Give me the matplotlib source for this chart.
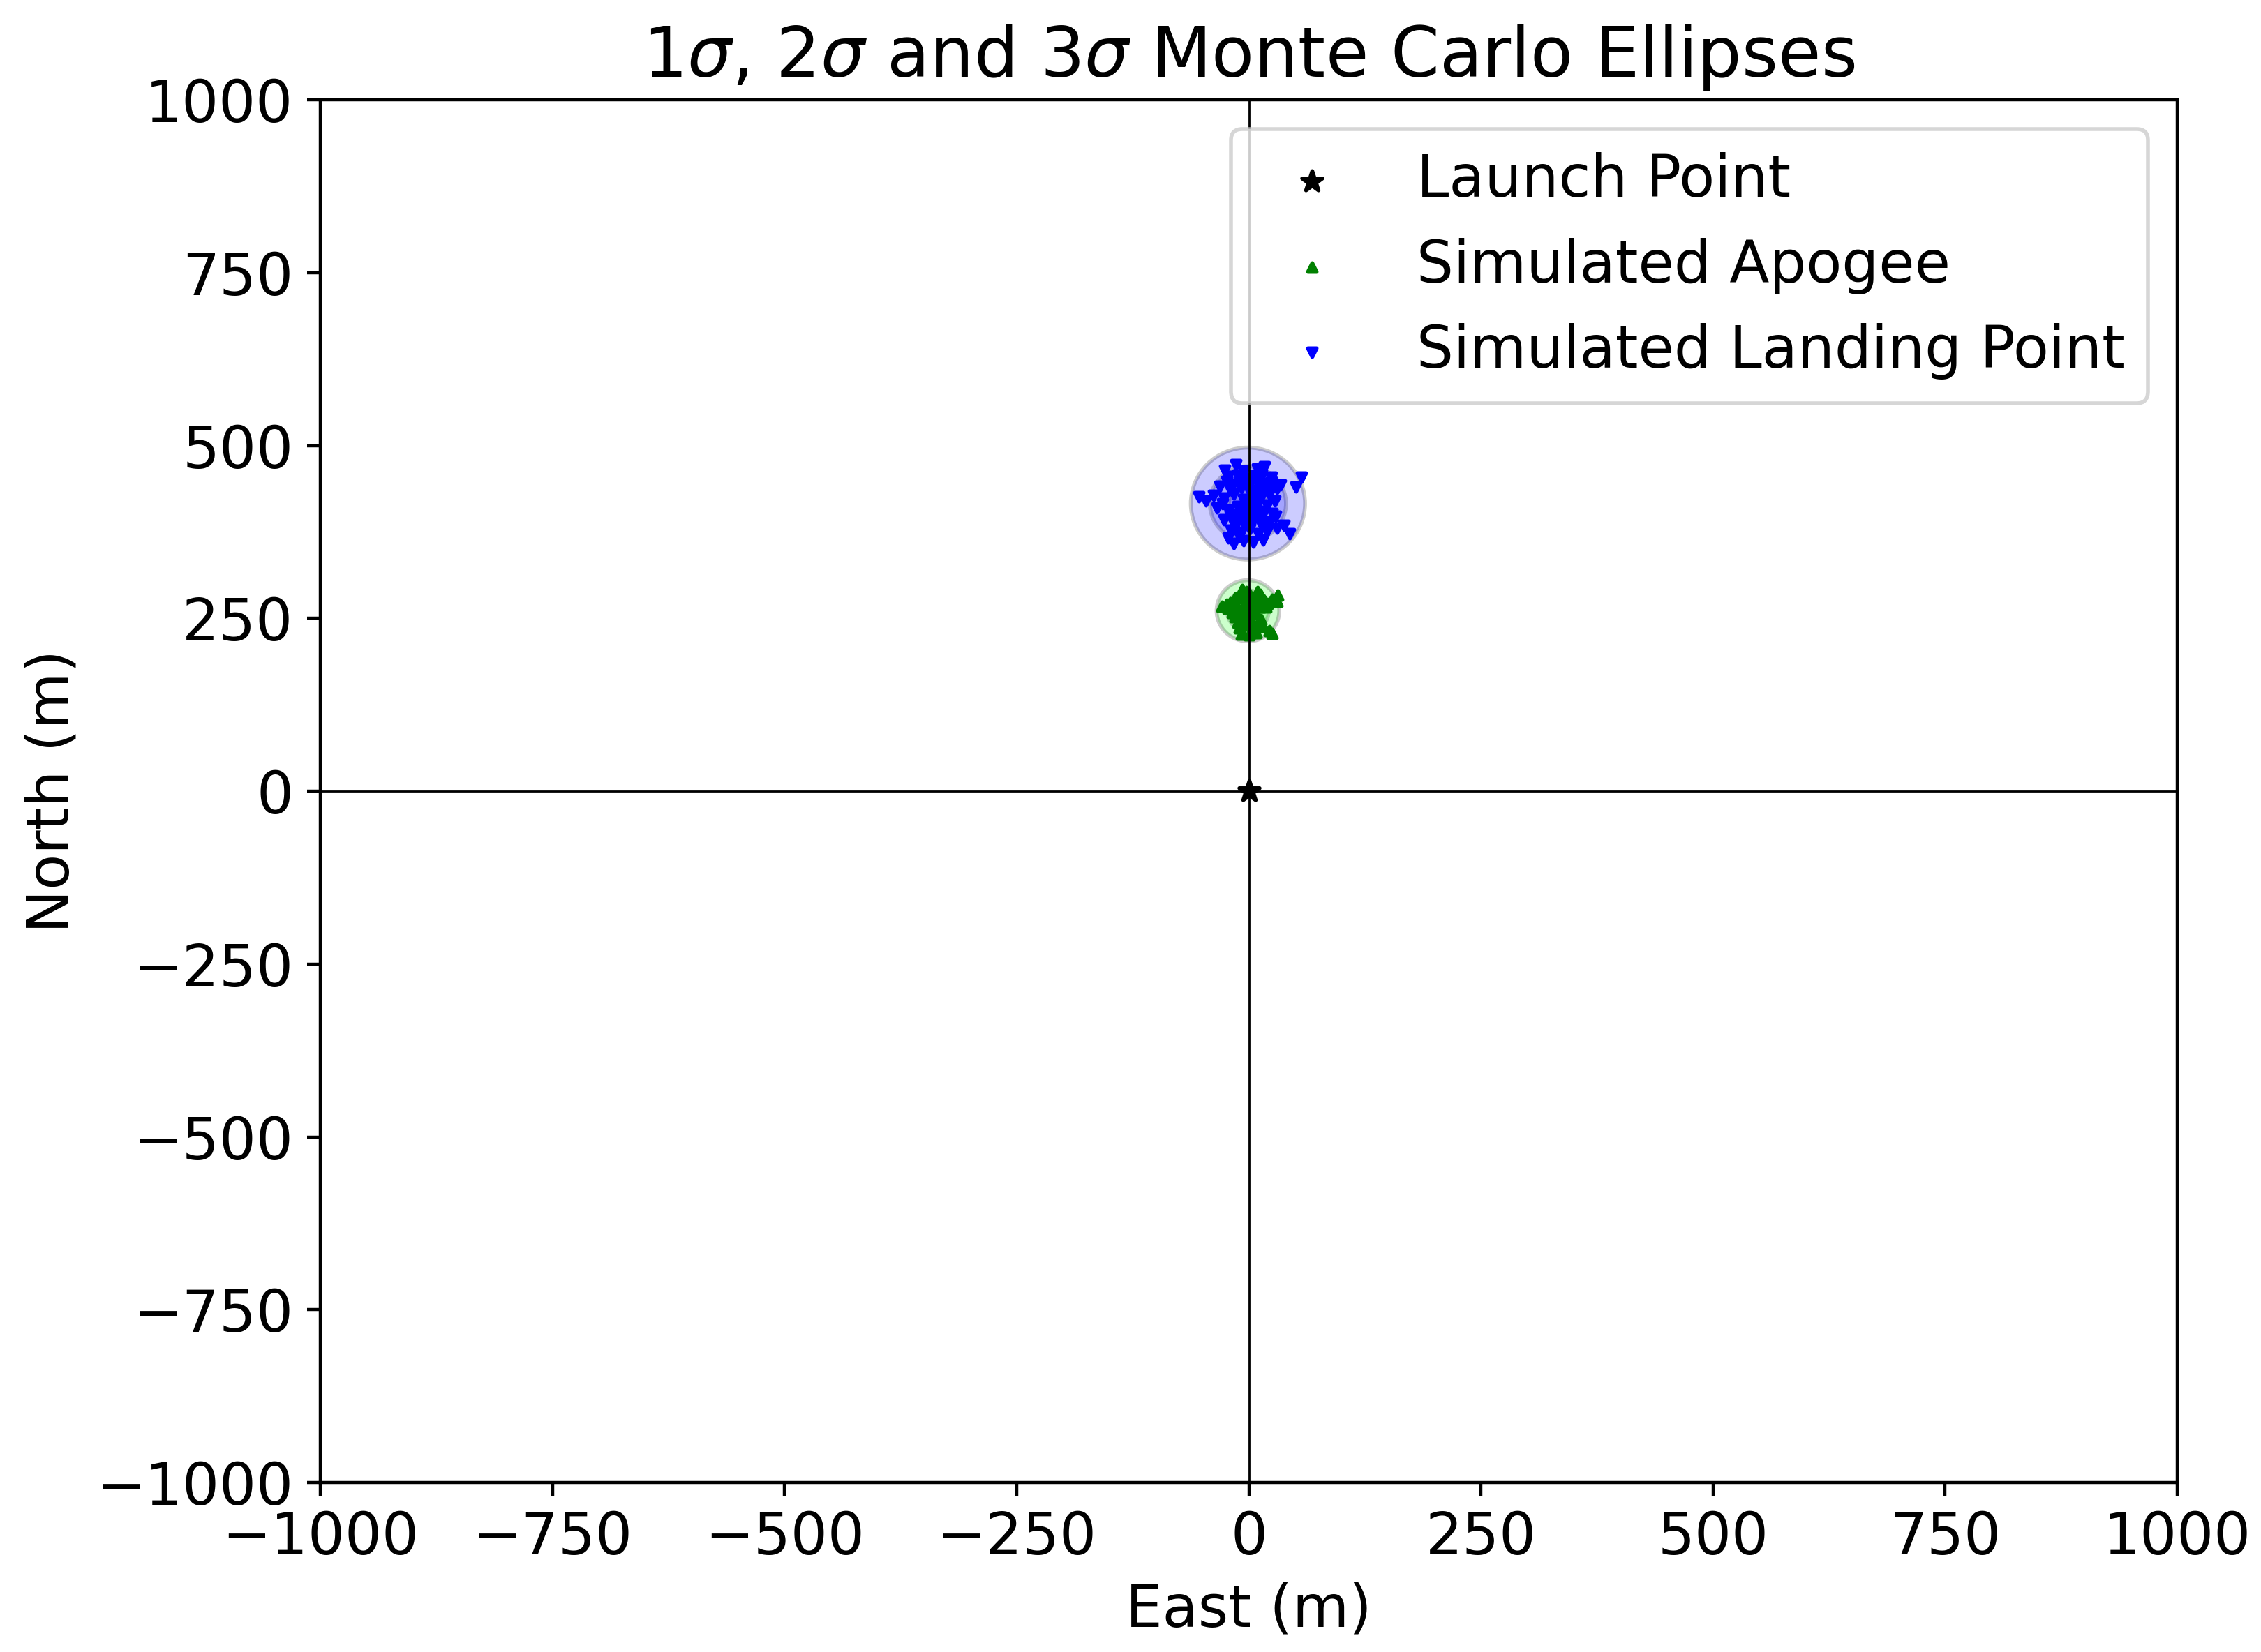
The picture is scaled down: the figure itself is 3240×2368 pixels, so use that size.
import matplotlib
matplotlib.use("Agg")
import matplotlib.pyplot as plt
from matplotlib.patches import Ellipse

plt.rcParams["font.size"] = 15

# launch point
launch_x = [0]
launch_y = [0]

# simulated apogee points (East, North)
apogee_x = [-7, -3, 9, 12,
            -15, -9, 0, 6, 16, 31, 30,
            -29, -22, -14, -6, 3, 12, 20, 25,
            -15, -8, 1, 8, 13, -12,
            -10, -2, 6, 15, 22, 25,
            -8, 0, 8, -4, 4, -18, 10, -5, -20, 0,
            -12, 7, -2, 18, -24, 4]
apogee_y = [292, 289, 289, 285,
            280, 282, 278, 281, 277, 284, 274,
            267, 264, 270, 266, 270, 266, 271, 278,
            252, 256, 250, 257, 248, 244,
            236, 240, 233, 238, 232, 228,
            227, 226, 229, 260, 262, 258, 243, 247, 272, 286,
            262, 274, 255, 266, 270, 242]

# simulated landing points
landing_x = [-14, 17, -26, 9, -5,
             -22, -12, -3, 6, 14, 24, 57,
             -31, -18, -8, 2, 11, 20, 30, 34, 51,
             -54, -46, -38, -27, -16, -6, 4, 13, 22, 28,
             -34, -22, -12, -2, 8, 17, 20,
             -27, -17, -7, 3, 12, 22, 29,
             -19, -9, 1, 10, 20, 30, 38, 44,
             -16, -22, -6, 5, 15,
             -10, 0, -20, 10, -2, -12, 6, -4, 14, -28, 25,
             -24, -6, 18, -14, 8, -20, 2, 24, -10, 12]
landing_y = [472, 469, 464, 466, 463,
             455, 457, 452, 456, 458, 454, 454,
             441, 444, 439, 446, 442, 445, 438, 443, 440,
             426, 420, 428, 424, 430, 422, 428, 425, 430, 420,
             410, 407, 412, 404, 410, 405, 414,
             393, 390, 396, 388, 394, 390, 398,
             377, 374, 379, 372, 376, 380, 384, 372,
             358, 366, 362, 360, 363,
             448, 435, 436, 433, 417, 400, 398, 384, 384, 416, 402,
             448, 412, 436, 384, 418, 399, 395, 447, 368, 452]

# ellipse centres and 1 sigma full widths / heights
apogee_center = (-1, 261)
apogee_size = (22.5, 29.5)
landing_center = (-1, 416)
landing_size = (41, 54)

fig = plt.figure(figsize=(8.1, 5.92), dpi=400)
ax = fig.add_axes([0.1417, 0.1026, 0.8213, 0.837])

for j in [1, 2, 3]:
    ell = Ellipse(xy=apogee_center, width=apogee_size[0] * j, height=apogee_size[1] * j,
                  angle=0, color="black", alpha=0.2, zorder=1)
    ell.set_facecolor((0, 1, 0, 0.2))
    ax.add_patch(ell)
for j in [1, 2, 3]:
    ell = Ellipse(xy=landing_center, width=landing_size[0] * j, height=landing_size[1] * j,
                  angle=0, color="black", alpha=0.2, zorder=1)
    ell.set_facecolor((0, 0, 1, 0.2))
    ax.add_patch(ell)

ax.scatter(launch_x, launch_y, s=30, marker="*", color="black", label="Launch Point", zorder=3)
ax.scatter(apogee_x, apogee_y, s=5, marker="^", color="green", label="Simulated Apogee", zorder=2)
ax.scatter(landing_x, landing_y, s=5, marker="v", color="blue", label="Simulated Landing Point", zorder=2)

ax.axhline(0, color="black", linewidth=0.5, zorder=2.5)
ax.axvline(0, color="black", linewidth=0.5, zorder=2.5)

ax.legend(loc="upper right")
ax.set_title(r"1$\sigma$, 2$\sigma$ and 3$\sigma$ Monte Carlo Ellipses")
ax.set_ylabel("North (m)")
ax.set_xlabel("East (m)")
ax.set_xlim(-1000, 1000)
ax.set_ylim(-1000, 1000)

fig.savefig("out.png", dpi=400)
